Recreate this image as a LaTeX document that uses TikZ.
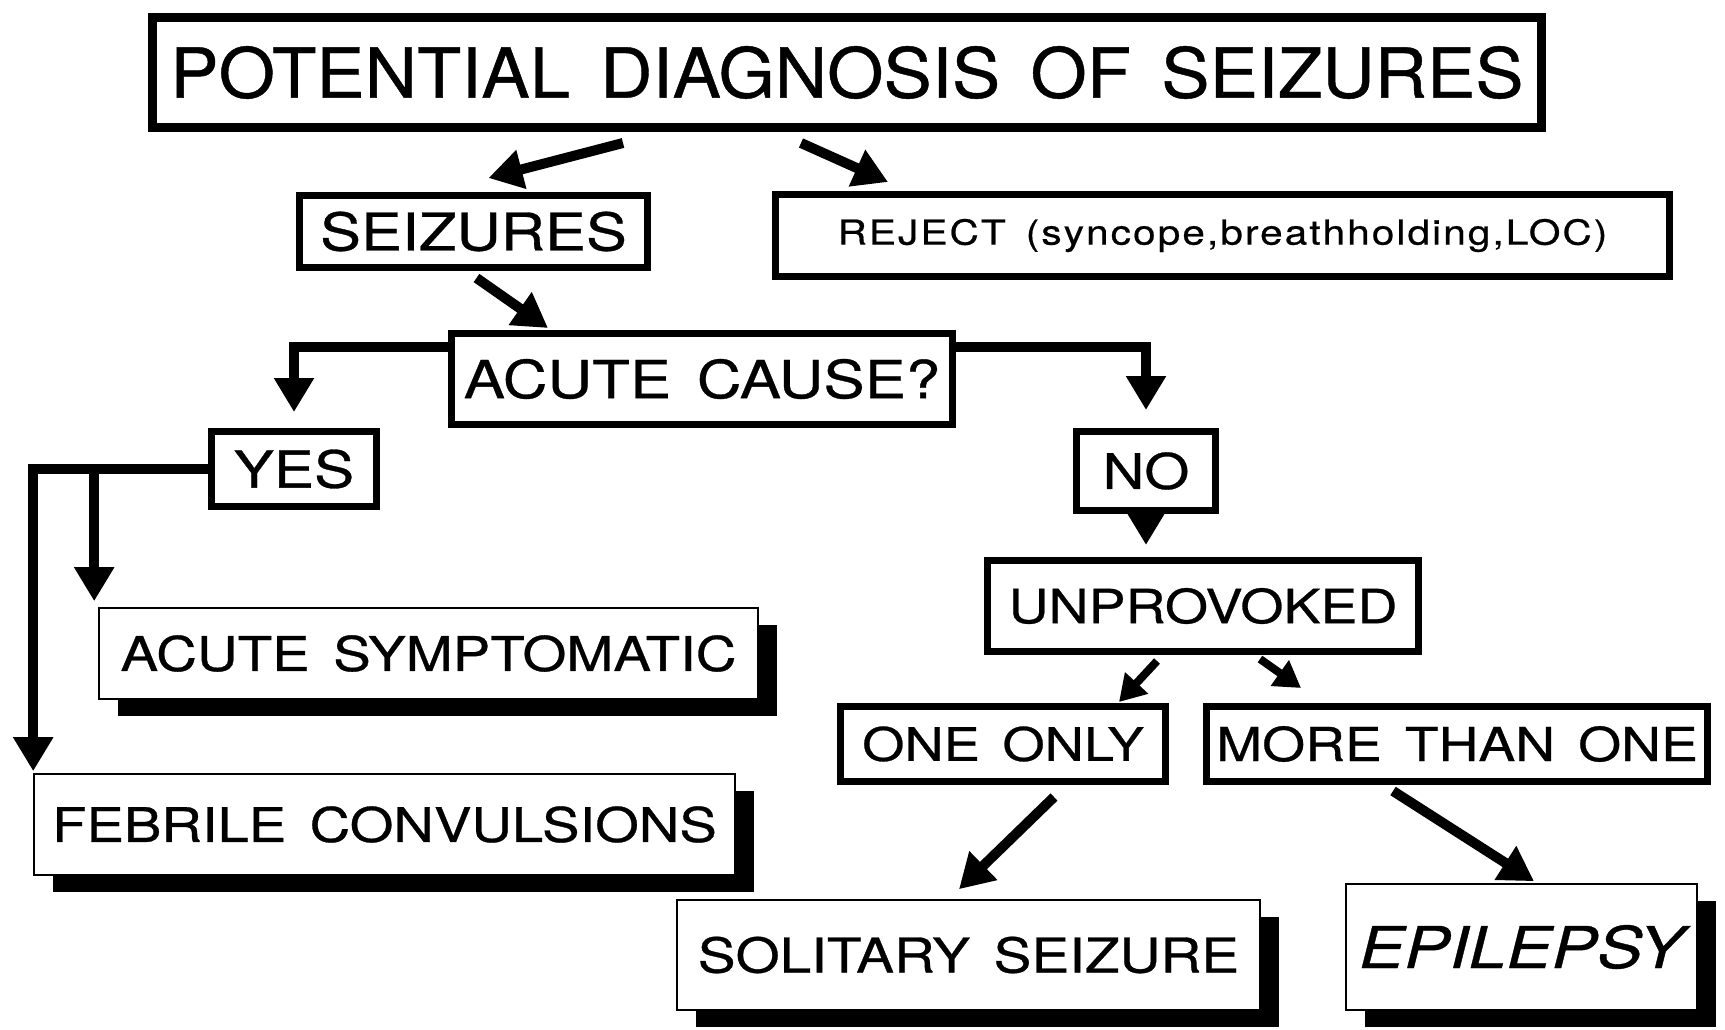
\documentclass[tikz,border=0pt]{standalone}
\usepackage{fontspec}
\setmainfont[FakeStretch=1.18,WordSpace=1.5,FakeBold=0.6]{TeX Gyre Heros}
\newfontfamily\headfont[FakeStretch=1.05,WordSpace=1.5,FakeBold=0.6]{TeX Gyre Heros}
\usetikzlibrary{arrows.meta,shadows}
\begin{document}
\begin{tikzpicture}[x=0.5pt,y=-0.5pt,
    box/.style={draw,line width=3.5pt,inner sep=0pt},
    shbox/.style={draw,line width=0.8pt,fill=white,inner sep=0pt,drop shadow={shadow xshift=9.5pt,shadow yshift=-8.5pt,fill=black,opacity=1}},
    fs/.style={font=\fontsize{#1}{#1}\selectfont},
    arr/.style={line width=5pt,-{Triangle[width=19pt,length=17pt]}},
    elbow/.style={arr,line join=miter}]
  \useasboundingbox (0,0) rectangle (1725,1029);
  \node[box,line width=4.5pt,minimum width=694.5pt,minimum height=55pt,font=\headfont\fontsize{34.5}{34.5}\selectfont] (title) at (847,72.5) {POTENTIAL DIAGNOSIS OF SEIZURES};
  \node[box,minimum width=174pt,minimum height=36pt,fs=26] (seiz) at (473.5,231.5) {SEIZURES};
  \node[box,minimum width=447pt,minimum height=41pt,fs=17.2] (rej) at (1222.5,235.5) {\addfontfeatures{LetterSpace=6}REJECT (syncope,breathholding,LOC)};
  \node[box,minimum width=250.5pt,minimum height=45.5pt,fs=26.2] (cause) at (702,379) {ACUTE CAUSE?};
  \node[box,minimum width=82.5pt,minimum height=37.5pt,fs=25.5] (yes) at (294,469) {YES};
  \node[box,minimum width=69.5pt,minimum height=39.5pt,fs=24.5] (no) at (1146,471) {NO};
  \node[box,minimum width=215.5pt,minimum height=45.5pt,fs=23.5] (unprov) at (1203,606) {UNPROVOKED};
  \node[box,minimum width=162.5pt,minimum height=37.5pt,fs=23] (one) at (1003,744) {ONE ONLY};
  \node[box,minimum width=250.5pt,minimum height=37.5pt,fs=23.4] (more) at (1457,744) {MORE THAN ONE};
  \node[shbox,minimum width=329.5pt,minimum height=45.5pt,fs=23.9] (symp) at (428.5,653.5) {ACUTE SYMPTOMATIC};
  \node[shbox,minimum width=350.5pt,minimum height=50.5pt,fs=23.8] (feb) at (384.5,824.5) {FEBRILE CONVULSIONS};
  \node[shbox,minimum width=291.5pt,minimum height=55pt,fs=24] (sol) at (968.5,955) {SOLITARY SEIZURE};
  \node[shbox,minimum width=175.5pt,minimum height=63pt,fs=28.8] (epi) at (1521.5,947) {\itshape EPILEPSY};
  \draw[arr] ([shift={(-224,11)}]title.south) -- ([shift={(15,-14)}]seiz.north);
  \draw[arr] ([shift={(-46,11)}]title.south) -- ([shift={(116,-9)}]rej.north west);
  \draw[arr] ([shift={(3,7)}]seiz.south) -- ([shift={(100,-2)}]cause.north west);
  \draw[elbow,shorten >=8pt] ([yshift=16pt]cause.west) -| (yes.north);
  \draw[elbow,shorten >=9pt] ([yshift=16pt]cause.east) -| (no.north);
  \draw[elbow,shorten >=1pt] (yes.west) -| (feb.north west);
  \draw[arr,shorten >=3pt] ([xshift=-2pt]symp.north west |- yes.west) -- ([xshift=-2pt]symp.north west);
  \draw[arr,shorten >=6pt] (no.south) -- (no.south |- unprov.north);
  \draw[arr,-{Triangle[width=15pt,length=13pt]},line width=4pt] ([shift={(-46,6)}]unprov.south) -- ([shift={(-50,-1)}]one.north east);
  \draw[arr,-{Triangle[width=15pt,length=13pt]},line width=4pt] ([shift={(57,4)}]unprov.south) -- ([shift={(98,-15)}]more.north west);
  \draw[arr] ([shift={(51,12)}]one.south) -- ([shift={(-9.5,-10)}]sol.north);
  \draw[arr] ([shift={(-64,6)}]more.south) -- ([shift={(12.5,-2)}]epi.north);
\end{tikzpicture}
\end{document}
